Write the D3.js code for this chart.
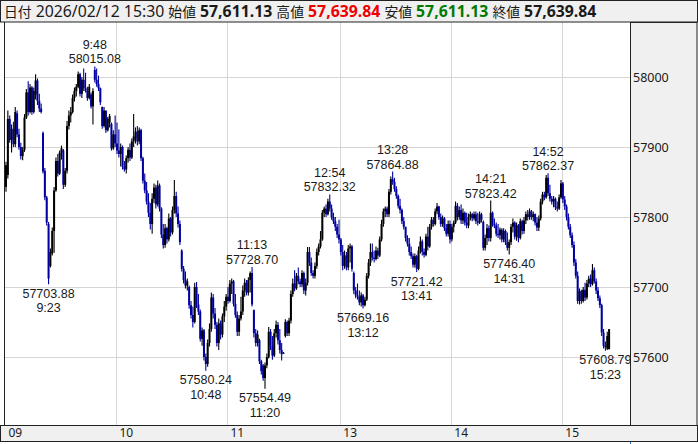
<!DOCTYPE html>
<html><head><meta charset="utf-8">
<script src="https://cdn.jsdelivr.net/npm/d3@7"></script>
<style>
html,body{margin:0;padding:0;background:#fff;}
svg{display:block;font-family:"Noto Sans","Noto Sans CJK JP",sans-serif;}
</style></head><body>
<svg id="c" width="698" height="444"></svg>
<script>
// ---- data ----
const sessions = [["09:00","11:30"],["12:30","15:24"]];
const extraTimes = ["15:30"];
const opens = [
57843,57860,57940,57910,57926,57904,57948,57918,57900,57887,
57896,57942,57978,57950,57985,57950,57975,57995,57966,57955,
57920,57866,57828,57790,57730,57748,57780,57838,57880,57862,
57892,57895,57846,57866,57930,57945,57950,57970,57980,57986,
58004,57976,57996,57984,57980,57970,57975,57958,58010,57996,
57990,57984,57957,57930,57952,57924,57935,57933,57898,57918,
57905,57895,57890,57900,57872,57868,57884,57896,57885,57908,
57912,57922,57908,57924,57884,57852,57838,57822,57806,57790,
57826,57842,57818,57845,57812,57775,57760,57784,57768,57798,
57778,57810,57830,57805,57790,57752,57726,57710,57702,57700,
57674,57660,57650,57700,57675,57665,57626,57638,57600,57590,
57620,57640,57685,57662,57646,57620,57648,57632,57658,57672,
57686,57680,57705,57708,57676,57660,57636,57655,57665,57695,
57706,57692,57710,57720,57667,57634,57620,57624,57594,57588,
57570,57588,57600,57636,57616,57602,57634,57646,57624,57610,
57606,57630,57650,57634,57652,57690,57705,57698,57716,57708,
57704,57720,57695,57706,57750,57735,57720,57716,57730,57750,
57758,57768,57806,57812,57804,57822,57812,57800,57794,57786,
57775,57768,57750,57730,57745,57728,57755,57758,57720,57695,
57688,57686,57678,57688,57674,57682,57716,57735,57750,57742,
57740,57752,57745,57768,57790,57808,57812,57804,57836,57854,
57850,57840,57830,57816,57810,57794,57786,57770,57762,57750,
57744,57732,57744,57726,57752,57765,57750,57746,57772,57758,
57786,57796,57790,57808,57815,57800,57790,57798,57784,57776,
57790,57768,57786,57792,57816,57800,57810,57795,57806,57792,
57788,57800,57804,57798,57804,57794,57792,57804,57793,57756,
57770,57784,57770,57806,57790,57788,57776,57774,57782,57768,
57780,57764,57756,57764,57786,57792,57772,57788,57770,57794,
57780,57795,57804,57800,57808,57800,57804,57792,57785,57798,
57822,57832,57828,57856,57834,57826,57822,57826,57814,57812,
57828,57848,57825,57815,57800,57786,57774,57760,57735,57716,
57680,57694,57680,57696,57685,57705,57712,57704,57724,57708,
57695,57684,57674,57635,57616,57612,57611.13];
const highs = [
57879,57952,57945,57932,57936,57957,57952,57926,57906,57900,
57947,57983,57994,57990,57987,57985,58004,57998,57976,57962,
57922,57870,57830,57793,57755,57785,57843,57885,57890,57895,
57902,57897,57870,57937,57952,57957,57975,57985,57990,58008,
58006,58000,58012,58006,57986,57990,57978,57984,58015.08,58012,
58002,57985,57958,57957,57952,57943,57947,57935,57924,57945,
57935,57925,57905,57902,57880,57888,57900,57905,57912,57947,
57928,57930,57928,57926,57886,57862,57850,57834,57820,57834,
57848,57846,57852,57848,57814,57790,57790,57786,57805,57800,
57815,57853,57836,57815,57795,57754,57730,57722,57712,57702,
57680,57672,57706,57707,57690,57668,57642,57640,57605,57625,
57648,57692,57690,57670,57650,57655,57652,57662,57680,57690,
57700,57710,57712,57710,57690,57665,57660,57686,57702,57712,
57710,57714,57722,57728.70,57668,57640,57638,57626,57596,57590,
57592,57605,57643,57640,57630,57640,57652,57650,57640,57620,
57607,57654,57652,57656,57695,57712,57724,57720,57728,57712,
57724,57722,57712,57757,57757,57742,57724,57735,57755,57762,
57780,57810,57815,57818,57826,57832.32,57818,57806,57800,57790,
57796,57770,57760,57752,57750,57760,57762,57760,57722,57700,
57705,57695,57692,57690,57686,57720,57740,57762,57762,57752,
57758,57756,57772,57796,57812,57815,57815,57840,57858,57864.88,
57856,57844,57832,57826,57812,57800,57786,57774,57770,57758,
57748,57748,57746,57758,57772,57768,57755,57776,57786,57790,
57800,57800,57812,57820,57816,57805,57802,57800,57790,57795,
57795,57790,57795,57822,57820,57815,57818,57812,57808,57806,
57805,57808,57806,57808,57808,57806,57808,57806,57795,57775,
57790,57788,57823.42,57808,57798,57792,57790,57785,57784,57784,
57782,57778,57768,57790,57798,57794,57792,57790,57798,57796,
57800,57808,57810,57812,57810,57808,57805,57800,57802,57826,
57836,57836,57860,57862.37,57846,57830,57830,57828,57822,57832,
57853,57850,57830,57818,57805,57790,57778,57765,57740,57722,
57698,57696,57700,57706,57710,57716,57718,57733,57728,57712,
57700,57688,57676,57640,57622,57636,57639.84];
const lows = [
57836,57855,57906,57892,57900,57900,57914,57896,57882,57881,
57893,57940,57945,57948,57946,57948,57968,57960,57950,57948,
57862,57824,57788,57703.88,57728,57745,57749,57836,57858,57860,
57882,57840,57843,57862,57925,57935,57948,57965,57972,57984,
57972,57970,57980,57978,57966,57968,57955,57932,57992,57986,
57980,57960,57926,57928,57920,57922,57928,57895,57896,57900,
57890,57885,57872,57868,57865,57862,57878,57880,57883,57900,
57905,57902,57904,57880,57848,57834,57818,57800,57782,57776,
57820,57812,57815,57808,57770,57755,57756,57762,57765,57772,
57775,57805,57800,57785,57760,57722,57705,57698,57695,57669,
57655,57642,57648,57670,57660,57622,57616,57595,57580.24,57586,
57615,57636,57655,57640,57615,57610,57625,57628,57650,57666,
57676,57678,57690,57672,57656,57630,57630,57652,57660,57686,
57688,57688,57692,57672,57628,57615,57615,57590,57575,57566,
57554.49,57584,57598,57610,57596,57600,57628,57618,57605,57595,
57605,57628,57630,57630,57648,57686,57694,57696,57704,57700,
57700,57690,57688,57702,57730,57716,57712,57712,57726,57745,
57755,57766,57800,57800,57802,57808,57796,57790,57780,57770,
57762,57745,57724,57726,57724,57724,57735,57722,57690,57684,
57682,57674,57672,57669.16,57672,57680,57712,57730,57738,57735,
57738,57740,57743,57765,57786,57800,57800,57800,57832,57846,
57836,57826,57812,57805,57790,57782,57765,57758,57745,57740,
57728,57728,57721.42,57724,57748,57745,57742,57744,57752,57756,
57782,57786,57788,57804,57796,57786,57786,57780,57772,57772,
57762,57765,57778,57790,57795,57796,57790,57790,57788,57784,
57784,57795,57794,57795,57790,57788,57790,57792,57752,57752,
57760,57765,57765,57786,57784,57772,57770,57768,57764,57764,
57760,57752,57746.40,57760,57778,57768,57766,57764,57768,57775,
57776,57790,57795,57796,57796,57794,57788,57780,57780,57795,
57818,57824,57826,57830,57822,57818,57814,57810,57808,57810,
57826,57820,57810,57795,57782,57770,57756,57730,57712,57676,
57675,57676,57678,57680,57682,57700,57700,57702,57705,57690,
57680,57670,57630,57612,57608.79,57610,57611.13];
const closes = [
57874,57940,57910,57926,57904,57950,57918,57900,57887,57896,
57942,57978,57950,57985,57950,57980,57995,57966,57955,57950,
57865,57828,57792,57712,57750,57780,57838,57880,57862,57892,
57898,57846,57866,57930,57945,57950,57970,57980,57986,58004,
57976,57996,57984,57980,57970,57986,57958,57980,57996,57990,
57984,57964,57930,57952,57924,57940,57944,57898,57918,57905,
57895,57890,57900,57872,57868,57884,57896,57885,57908,57915,
57922,57908,57924,57884,57852,57838,57822,57806,57790,57826,
57842,57818,57845,57812,57775,57760,57784,57768,57798,57778,
57810,57830,57805,57790,57764,57726,57710,57702,57708,57674,
57660,57650,57700,57675,57665,57626,57638,57600,57590,57620,
57640,57685,57662,57646,57620,57648,57632,57658,57672,57686,
57680,57705,57708,57676,57660,57636,57655,57665,57695,57706,
57692,57710,57720,57675,57634,57620,57632,57594,57580,57570,
57588,57600,57636,57616,57602,57634,57646,57624,57610,57604,
57606,57650,57634,57652,57690,57705,57698,57716,57708,57704,
57720,57695,57706,57750,57735,57720,57716,57730,57750,57758,
57768,57806,57812,57804,57822,57812,57800,57794,57786,57775,
57768,57750,57730,57745,57728,57755,57758,57726,57695,57688,
57686,57678,57688,57674,57682,57716,57735,57750,57742,57740,
57752,57745,57768,57790,57808,57812,57804,57836,57854,57850,
57840,57830,57816,57810,57794,57786,57770,57762,57750,57744,
57732,57744,57726,57752,57765,57750,57746,57772,57758,57786,
57796,57790,57808,57815,57800,57790,57798,57784,57776,57790,
57768,57786,57792,57816,57800,57810,57795,57806,57792,57788,
57800,57804,57798,57804,57794,57792,57804,57796,57756,57770,
57784,57770,57806,57790,57788,57776,57774,57782,57768,57780,
57764,57756,57764,57786,57792,57772,57788,57770,57794,57780,
57795,57804,57800,57808,57800,57804,57792,57785,57798,57822,
57832,57828,57856,57834,57826,57822,57826,57814,57812,57828,
57848,57825,57815,57800,57786,57774,57760,57735,57716,57680,
57694,57680,57696,57685,57705,57712,57704,57724,57708,57695,
57684,57674,57635,57616,57614,57630,57639.84];
const yTicks = [57600, 57700, 57800, 57900, 58000];
const xTickTimes = ["09:00","10:00","11:00","13:00","14:00","15:00"];
const xTickLabels = ["09","10","11","13","14","15"];
const highMarks = [["09:48",58015.08],["11:13",57728.70],["12:54",57832.32],["13:28",57864.88],["14:21",57823.42],["14:52",57862.37]];
const lowMarks = [["09:23",57703.88],["10:48",57580.24],["11:20",57554.49],["13:12",57669.16],["13:41",57721.42],["14:31",57746.40],["15:23",57608.79]];
const headerDate = "2026/02/12";
const headerTime = "15:30";

// ---- bar times ----
const pad = n => String(n).padStart(2,"0");
const times = [];
sessions.forEach(([a,b]) => {
  let [h,m] = a.split(":").map(Number); const [h2,m2] = b.split(":").map(Number);
  while (h*60+m <= h2*60+m2) { times.push(pad(h)+":"+pad(m)); m++; if (m===60){m=0;h++;} }
});
extraTimes.forEach(t => times.push(t));
const bars = times.map((t,i) => ({t, i, o:opens[i], h:highs[i], l:lows[i], c:closes[i]}));

// ---- layout ----
const W=698, H=444, L=5, R=630, T=22, B=425;
const svg = d3.select("#c");
const x = d3.scaleLinear().domain([0,337]).range([6, 6+337*1.85]);
const y = d3.scaleLinear().domain([57600,58000]).range([357,77]);
const idx = t => times.indexOf(t);

svg.append("rect").attr("x",0).attr("y",0).attr("width",W).attr("height",H).attr("fill","#fff");

// grid
const g = svg.append("g");
g.selectAll(".hg").data(yTicks).join("line")
  .attr("x1",L).attr("x2",R).attr("y1",d=>Math.round(y(d))+0.5).attr("y2",d=>Math.round(y(d))+0.5)
  .attr("stroke","#d6d6d6").attr("stroke-width",1);
g.selectAll(".vg").data(xTickTimes.slice(1)).join("line")
  .attr("x1",d=>Math.round(x(idx(d)))-0.5).attr("x2",d=>Math.round(x(idx(d)))-0.5).attr("y1",T).attr("y2",B)
  .attr("stroke","#d6d6d6").attr("stroke-width",1);

// candles
const upC = "#000000", dnC = "#0000a0";
const cg = svg.append("g");
cg.selectAll("line.w").data(bars).join("line")
  .attr("x1",d=>x(d.i)).attr("x2",d=>x(d.i)).attr("y1",d=>y(d.h)).attr("y2",d=>y(d.l))
  .attr("stroke",d=>d.c>=d.o?upC:dnC).attr("stroke-width",1.1);
cg.selectAll("rect.b").data(bars).join("rect")
  .attr("x",d=>x(d.i)-1).attr("width",2)
  .attr("y",d=>y(Math.max(d.o,d.c)))
  .attr("height",d=>Math.max(1, y(Math.min(d.o,d.c))-y(Math.max(d.o,d.c))))
  .attr("fill",d=>d.c>=d.o?upC:dnC);

// annotations (two-line labels)
const fmt2 = d3.format(".2f");
const lt = t => t.replace(/^0/,"");
const ag = svg.append("g").attr("font-size","12.5px").attr("fill","#1a1a1a").attr("text-anchor","middle")
  .style("font-family","'Liberation Sans',Arial,sans-serif");
highMarks.forEach(([t,v]) => {
  const cx = x(idx(t)), yy = y(v);
  ag.append("text").attr("x",cx).attr("y",yy-17.5).text(lt(t));
  ag.append("text").attr("x",cx).attr("y",yy-3).text(fmt2(v));
});
lowMarks.forEach(([t,v]) => {
  const cx = x(idx(t)), yy = y(v);
  ag.append("text").attr("x",cx).attr("y",yy+13.5).text(fmt2(v));
  ag.append("text").attr("x",cx).attr("y",yy+28).text(lt(t));
});

// plot left border
svg.append("line").attr("x1",4.5).attr("x2",4.5).attr("y1",T).attr("y2",B).attr("stroke","#222");

// right panel
svg.append("rect").attr("x",R+0.5).attr("y",T+0.5).attr("width",W-R-1.5).attr("height",B-T)
  .attr("fill","#f0f0f0").attr("stroke","#222");
const yAxis = d3.axisRight(y).tickValues(yTicks).tickSize(0).tickPadding(3).tickFormat(d3.format("d"));
const ya = svg.append("g").attr("transform",`translate(${R},0)`).call(yAxis);
ya.select(".domain").remove();
ya.attr("font-family",null).attr("font-size",null);
ya.selectAll("text").attr("font-size","12.5px").attr("fill","#1a1a1a");

// bottom band
svg.append("rect").attr("x",0.5).attr("y",B+0.5).attr("width",W-1).attr("height",16)
  .attr("fill","#f0f0f0").attr("stroke","#222");
const xAxis = d3.axisBottom(x).tickValues(xTickTimes.map(idx)).tickSize(0)
  .tickFormat((d,i)=>xTickLabels[i]);
const xa = svg.append("g").attr("transform",`translate(0,${B})`).call(xAxis);
xa.select(".domain").remove();
xa.attr("font-family",null).attr("font-size",null);
xa.selectAll("text").attr("font-size","12px").attr("fill","#1a1a1a")
  .attr("text-anchor","start").attr("dx","2").attr("y",0).attr("dy","12.3");
svg.append("line").attr("x1",R+0.5).attr("x2",R+0.5).attr("y1",B+17).attr("y2",H).attr("stroke","#3a6fd8");

// header
svg.append("rect").attr("x",0.5).attr("y",0.5).attr("width",W-1).attr("height",T-0.5)
  .attr("fill","#f0f0f0").attr("stroke","#222");
const last = bars[bars.length-1];
const fmtc = d3.format(",.2f");
const ht = svg.append("text").attr("x",4).attr("y",17).attr("font-size","15.8px")
  .style("font-family","'Noto Sans','Noto Sans CJK JP',sans-serif").attr("fill","#1a1a1a")
  .style("white-space","pre");
const K = "#1a1a1a";
const parts = [
  ["日付","cjk",K],[" "+headerDate+" "+headerTime+" ","normal",K],
  ["始値","cjk",K],[" ","normal",K],[fmtc(last.o),"bold",K],[" ","normal",K],
  ["高値","cjk",K],[" ","normal",K],[fmtc(last.h),"bold","#ee0000"],[" ","normal",K],
  ["安値","cjk",K],[" ","normal",K],[fmtc(last.l),"bold","#007a00"],[" ","normal",K],
  ["終値","cjk",K],[" ","normal",K],[fmtc(last.c),"bold",K]
];
parts.forEach(([s,w,c]) => {
  const sp = ht.append("tspan").attr("fill",c).text(s);
  if (w==="cjk") sp.attr("font-size","13.8px").style("font-family","'Noto Sans CJK JP',sans-serif");
  else sp.attr("font-weight",w);
});
</script>
</body></html>
